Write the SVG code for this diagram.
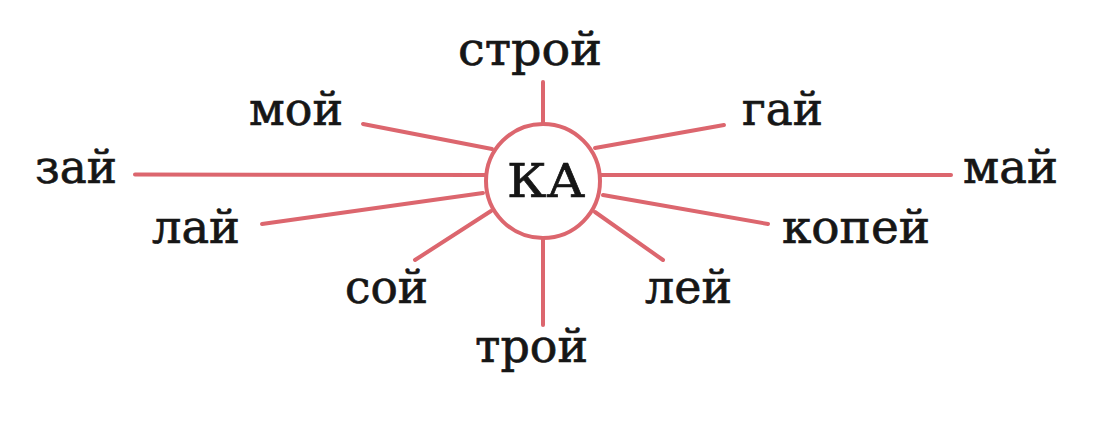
<svg xmlns="http://www.w3.org/2000/svg" width="1094" height="422" viewBox="0 0 1094 422">
<style>
.ray{stroke:#dc666e;stroke-width:4;stroke-linecap:round;fill:none}
.hub{stroke:#dc666e;stroke-width:4;fill:#fff}
.w{font-family:"DejaVu Serif","Liberation Serif",serif;font-size:47px;fill:#161616;stroke:#161616;stroke-width:0.7}
</style>
<rect width="1094" height="422" fill="#fff"/>
<g id="connectors">
<line class="ray" x1="543" y1="82" x2="543" y2="124"/>
<line class="ray" x1="543" y1="238" x2="543" y2="325"/>
<line class="ray" x1="135" y1="174.5" x2="486" y2="175"/>
<line class="ray" x1="363" y1="124" x2="492" y2="149"/>
<line class="ray" x1="262" y1="224" x2="483" y2="193"/>
<line class="ray" x1="415" y1="260" x2="491" y2="211"/>
<line class="ray" x1="595" y1="148" x2="724" y2="125"/>
<line class="ray" x1="600" y1="175" x2="951" y2="175"/>
<line class="ray" x1="603" y1="195" x2="768" y2="224"/>
<line class="ray" x1="595" y1="212" x2="663" y2="260"/>
</g>
<g id="hub"><circle class="hub" cx="543" cy="181" r="57"/><text class="w" x="507" y="197" textLength="78" lengthAdjust="spacingAndGlyphs">КА</text></g>
<g id="n-stroy"><text class="w" x="458" y="65" textLength="144" lengthAdjust="spacingAndGlyphs">строй</text></g>
<g id="n-moy"><text class="w" x="249" y="125" textLength="94" lengthAdjust="spacingAndGlyphs">мой</text></g>
<g id="n-zay"><text class="w" x="35" y="183" textLength="82" lengthAdjust="spacingAndGlyphs">зай</text></g>
<g id="n-lay"><text class="w" x="152" y="243" textLength="88" lengthAdjust="spacingAndGlyphs">лай</text></g>
<g id="n-soy"><text class="w" x="345" y="303" textLength="83" lengthAdjust="spacingAndGlyphs">сой</text></g>
<g id="n-troy"><text class="w" x="475" y="362" textLength="113" lengthAdjust="spacingAndGlyphs">трой</text></g>
<g id="n-gay"><text class="w" x="742" y="125" textLength="81" lengthAdjust="spacingAndGlyphs">гай</text></g>
<g id="n-may"><text class="w" x="963" y="183" textLength="95" lengthAdjust="spacingAndGlyphs">май</text></g>
<g id="n-kopey"><text class="w" x="782" y="243" textLength="148" lengthAdjust="spacingAndGlyphs">копей</text></g>
<g id="n-ley"><text class="w" x="645" y="303" textLength="87" lengthAdjust="spacingAndGlyphs">лей</text></g>
</svg>
